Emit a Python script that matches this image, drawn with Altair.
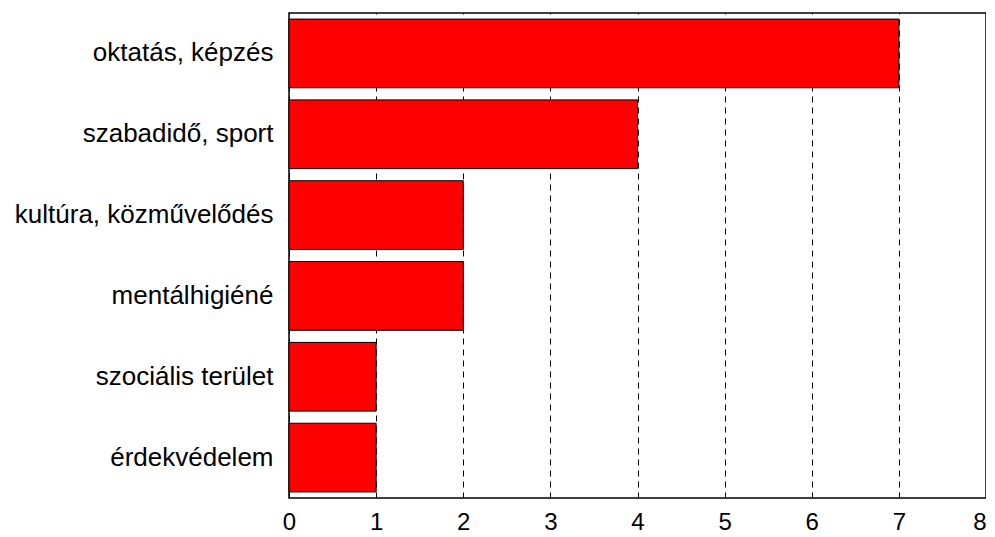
import altair as alt
import pandas as pd

categories = ["oktatás, képzés", "szabadidő, sport", "kultúra, közművelődés",
              "mentálhigiéné", "szociális terület", "érdekvédelem"]
values = [7, 4, 2, 2, 1, 1]
x_ticks = [0, 1, 2, 3, 4, 5, 6, 7, 8]

df = pd.DataFrame({"cat": categories, "val": values})

chart = alt.Chart(df).mark_bar(
    color="#FF0000", stroke="black", strokeWidth=1
).encode(
    x=alt.X("val:Q",
            scale=alt.Scale(domain=[0, 8], nice=False),
            axis=alt.Axis(title=None, values=x_ticks, grid=True, gridDash=[6, 5],
                          gridColor="#000000", gridWidth=1, ticks=False, domain=False,
                          labelFontSize=24, labelFont="Liberation Sans",
                          labelColor="black", labelPadding=12,
                          labelAlign={"condition": {"test": "datum.value == 8", "value": "right"},
                                      "value": "center"})),
    y=alt.Y("cat:N", sort=categories,
            scale=alt.Scale(paddingInner=0.15, paddingOuter=0.075),
            axis=alt.Axis(title=None, ticks=False, domain=False, grid=False,
                          labelFontSize=26, labelFont="Liberation Sans",
                          labelColor="black", labelPadding=16,
                          minExtent=276, maxExtent=276, labelLimit=400)),
).properties(
    width=697, height=485,
    padding={"left": 5, "top": 5, "right": 0, "bottom": 0}
).configure_view(
    stroke="black", strokeWidth=1.5
)

chart.save("out.html", embed_options={"renderer": "svg", "actions": False})
